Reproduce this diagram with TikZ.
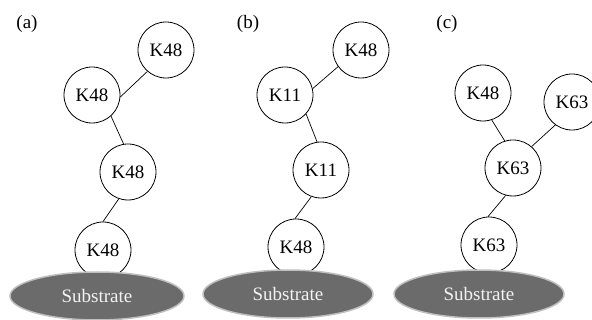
\documentclass[tikz,border=0pt]{standalone}
\usepackage{fontspec}
\setmainfont{Liberation Serif}
\tikzset{
  ub/.style={circle, draw=black, line width=0.8pt, fill=white, minimum size=56pt, inner sep=0pt, font=\fontsize{19}{19}\selectfont},
  sub/.style={ellipse, fill=black!58, draw=black!25, line width=1.5pt, inner sep=0pt, text=black!5, font=\fontsize{19}{19}\selectfont},
  lnk/.style={line width=0.7pt},
  lab/.style={font=\fontsize{19}{19}\selectfont, inner sep=0pt}
}
\usetikzlibrary{shapes.geometric}
\begin{document}
\begin{tikzpicture}[x=1pt,y=-1pt]
\path[use as bounding box] (0,0) rectangle (592,320);
\clip (0,0) rectangle (592,320);
% panel a
\node[lab] (la) at (27,24) {(a)};
\node[ub] (a1) at (166,50) {K48};
\node[ub] (a2) at (92,95) {K48};
\node[ub] (a3) at (128,172) {K48};
\node[ub] (a4) at (103,250) {K48};
\node[sub, minimum width=174pt, minimum height=48pt] (sa) at (97,296) {Substrate};
\draw[lnk] (a1.229) -- (a2.356);
\draw[lnk] (a2.-48) -- (a3.99);
\draw[lnk] (a3.251) -- (a4.90);
% panel b
\node[lab] (lb) at (248,24) {(b)};
\node[ub] (b1) at (361,50) {K48};
\node[ub] (b2) at (285,95) {K11};
\node[ub] (b3) at (321,170) {K11};
\node[ub] (b4) at (296,247) {K48};
\node[sub, minimum width=170pt, minimum height=48pt] (sb) at (288,294) {Substrate};
\draw[lnk] (b1.216) -- (b2.13);
\draw[lnk] (b2.-42) -- (b3.98);
\draw[lnk] (b3.250) -- (b4.92);
% panel c
\node[lab] (lc) at (447,24) {(c)};
\node[ub] (c1) at (483,93) {K48};
\node[ub] (c2) at (572,102) {K63};
\node[ub] (c3) at (513,168) {K63};
\node[ub] (c4) at (489,245) {K63};
\node[sub, minimum width=170pt, minimum height=48pt] (sc) at (479,294) {Substrate};
\draw[lnk] (c1.-72) -- (c3.107);
\draw[lnk] (c2.234) -- (c3.49);
\draw[lnk] (c3.255) -- (c4.92);
\end{tikzpicture}
\end{document}
